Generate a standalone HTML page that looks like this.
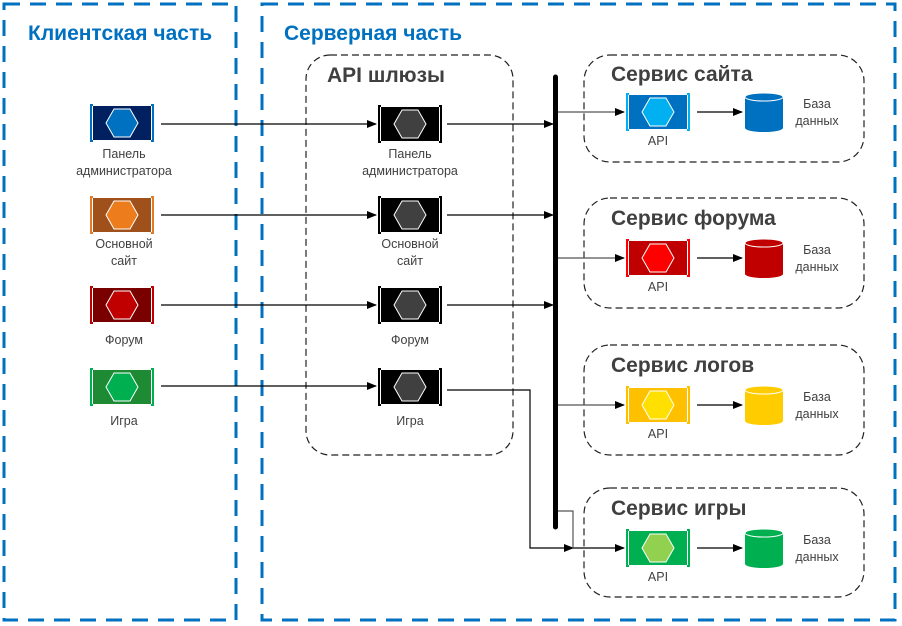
<!DOCTYPE html>
<html><head><meta charset="utf-8"><style>
html,body{margin:0;padding:0;background:#fff;}
svg{display:block;font-family:"Liberation Sans","DejaVu Sans",sans-serif;}
.l{font-size:12.5px;fill:#404040;text-anchor:middle;}
.t{font-size:21px;font-weight:bold;fill:#404040;}
.b{font-size:21px;font-weight:bold;fill:#0070c0;}
</style></head><body>
<svg width="902" height="626" viewBox="0 0 902 626">
<defs>
<marker id="a" markerWidth="10" markerHeight="8" refX="9" refY="4" orient="auto" markerUnits="userSpaceOnUse"><path d="M0,0 L10,4 L0,8 z" fill="#000"/></marker>
</defs>
<rect x="4" y="4" width="232" height="616" fill="none" stroke="#0070c0" stroke-width="3" stroke-dasharray="16,10"/>
<rect x="262" y="4" width="633" height="616" fill="none" stroke="#0070c0" stroke-width="3" stroke-dasharray="16,10"/>
<text class="b" x="28" y="40">Клиентская часть</text>
<text class="b" x="284" y="40">Серверная часть</text>
<rect x="306" y="55" width="207" height="400" rx="24" fill="none" stroke="#222" stroke-width="1.2" stroke-dasharray="7,4"/>
<text class="t" x="327" y="82">API шлюзы</text>
<rect x="584" y="55" width="280" height="107" rx="26" fill="none" stroke="#222" stroke-width="1.2" stroke-dasharray="7,4"/>
<rect x="584" y="198" width="280" height="110" rx="26" fill="none" stroke="#222" stroke-width="1.2" stroke-dasharray="7,4"/>
<rect x="584" y="345" width="280" height="110" rx="26" fill="none" stroke="#222" stroke-width="1.2" stroke-dasharray="7,4"/>
<rect x="584" y="488" width="280" height="109" rx="26" fill="none" stroke="#222" stroke-width="1.2" stroke-dasharray="7,4"/>
<text class="t" x="611" y="81">Сервис сайта</text>
<text class="t" x="611" y="225">Сервис форума</text>
<text class="t" x="611" y="372">Сервис логов</text>
<text class="t" x="611" y="515">Сервис игры</text>
<line x1="555.5" y1="77" x2="555.5" y2="527" stroke="#000" stroke-width="5" stroke-linecap="round"/>
<g stroke="#000" stroke-width="1.2" fill="none">
<line x1="161" y1="124" x2="376" y2="124" marker-end="url(#a)"/>
<line x1="161" y1="215" x2="376" y2="215" marker-end="url(#a)"/>
<line x1="161" y1="305" x2="376" y2="305" marker-end="url(#a)"/>
<line x1="161" y1="386" x2="376" y2="386" marker-end="url(#a)"/>
<line x1="447" y1="124" x2="553" y2="124" marker-end="url(#a)"/>
<line x1="447" y1="215" x2="553" y2="215" marker-end="url(#a)"/>
<line x1="447" y1="305" x2="553" y2="305" marker-end="url(#a)"/>
<polyline points="447,390 530,390 530,548 573,548" marker-end="url(#a)"/>
<line x1="573" y1="548" x2="624" y2="548" marker-end="url(#a)"/>
<polyline points="558,511 573,511 573,548" stroke="#555"/>
<line x1="558" y1="112" x2="624" y2="112" marker-end="url(#a)" stroke="#555"/>
<line x1="558" y1="258" x2="624" y2="258" marker-end="url(#a)" stroke="#555"/>
<line x1="558" y1="405" x2="624" y2="405" marker-end="url(#a)" stroke="#555"/>
<line x1="697" y1="112" x2="742" y2="112" marker-end="url(#a)"/>
<line x1="697" y1="258" x2="742" y2="258" marker-end="url(#a)"/>
<line x1="697" y1="405" x2="742" y2="405" marker-end="url(#a)"/>
<line x1="697" y1="548" x2="742" y2="548" marker-end="url(#a)"/>
</g>
<g transform="translate(90,105)"><path d="M3,0H1V36H3M61,0H63V36H61" fill="none" stroke="#0070c0" stroke-width="2"/><rect x="3" y="1" width="58" height="34" fill="#002060"/><polygon points="16,18 24,4 40,4 48,18 40,32 24,32" fill="#0070c0" stroke="#fff" stroke-width="1"/></g>
<g transform="translate(90,197)"><path d="M3,0H1V36H3M61,0H63V36H61" fill="none" stroke="#e07b2a" stroke-width="2"/><rect x="3" y="1" width="58" height="34" fill="#a0501a"/><polygon points="16,18 24,4 40,4 48,18 40,32 24,32" fill="#ed7d1c" stroke="#fff" stroke-width="1"/></g>
<g transform="translate(90,287)"><path d="M3,0H1V36H3M61,0H63V36H61" fill="none" stroke="#c00000" stroke-width="2"/><rect x="3" y="1" width="58" height="34" fill="#7a0000"/><polygon points="16,18 24,4 40,4 48,18 40,32 24,32" fill="#c00000" stroke="#fff" stroke-width="1"/></g>
<g transform="translate(90,369)"><path d="M3,0H1V36H3M61,0H63V36H61" fill="none" stroke="#00b050" stroke-width="2"/><rect x="3" y="1" width="58" height="34" fill="#1e8a34"/><polygon points="16,18 24,4 40,4 48,18 40,32 24,32" fill="#00b050" stroke="#fff" stroke-width="1"/></g>
<g transform="translate(378,106)"><path d="M3,0H1V36H3M61,0H63V36H61" fill="none" stroke="#000" stroke-width="2"/><rect x="3" y="1" width="58" height="34" fill="#000"/><polygon points="16,18 24,4 40,4 48,18 40,32 24,32" fill="#404040" stroke="#fff" stroke-width="1"/></g>
<g transform="translate(378,197)"><path d="M3,0H1V36H3M61,0H63V36H61" fill="none" stroke="#000" stroke-width="2"/><rect x="3" y="1" width="58" height="34" fill="#000"/><polygon points="16,18 24,4 40,4 48,18 40,32 24,32" fill="#404040" stroke="#fff" stroke-width="1"/></g>
<g transform="translate(378,287)"><path d="M3,0H1V36H3M61,0H63V36H61" fill="none" stroke="#000" stroke-width="2"/><rect x="3" y="1" width="58" height="34" fill="#000"/><polygon points="16,18 24,4 40,4 48,18 40,32 24,32" fill="#404040" stroke="#fff" stroke-width="1"/></g>
<g transform="translate(378,369)"><path d="M3,0H1V36H3M61,0H63V36H61" fill="none" stroke="#000" stroke-width="2"/><rect x="3" y="1" width="58" height="34" fill="#000"/><polygon points="16,18 24,4 40,4 48,18 40,32 24,32" fill="#404040" stroke="#fff" stroke-width="1"/></g>
<g transform="translate(626,94)"><path d="M3,0H1V36H3M61,0H63V36H61" fill="none" stroke="#00b0f0" stroke-width="2"/><rect x="3" y="1" width="58" height="34" fill="#0070c0"/><polygon points="16,18 24,4 40,4 48,18 40,32 24,32" fill="#00b0f0" stroke="#fff" stroke-width="1"/></g>
<g transform="translate(626,240)"><path d="M3,0H1V36H3M61,0H63V36H61" fill="none" stroke="#ff0000" stroke-width="2"/><rect x="3" y="1" width="58" height="34" fill="#c00000"/><polygon points="16,18 24,4 40,4 48,18 40,32 24,32" fill="#ff0000" stroke="#fff" stroke-width="1"/></g>
<g transform="translate(626,387)"><path d="M3,0H1V36H3M61,0H63V36H61" fill="none" stroke="#ffc000" stroke-width="2"/><rect x="3" y="1" width="58" height="34" fill="#ffc000"/><polygon points="16,18 24,4 40,4 48,18 40,32 24,32" fill="#ffe000" stroke="#fff" stroke-width="1"/></g>
<g transform="translate(626,530)"><path d="M3,0H1V36H3M61,0H63V36H61" fill="none" stroke="#00b050" stroke-width="2"/><rect x="3" y="1" width="58" height="34" fill="#00b050"/><polygon points="16,18 24,4 40,4 48,18 40,32 24,32" fill="#92d050" stroke="#fff" stroke-width="1"/></g>
<g><path d="M745,97 V128 A19,4 0 0 0 783,128 V97 Z" fill="#0070c0"/><ellipse cx="764" cy="97" rx="19" ry="4" fill="#0070c0" stroke="#fff" stroke-width="1"/></g>
<g><path d="M745,243 V274 A19,4 0 0 0 783,274 V243 Z" fill="#c00000"/><ellipse cx="764" cy="243" rx="19" ry="4" fill="#c00000" stroke="#fff" stroke-width="1"/></g>
<g><path d="M745,390 V421 A19,4 0 0 0 783,421 V390 Z" fill="#ffcc00"/><ellipse cx="764" cy="390" rx="19" ry="4" fill="#ffcc00" stroke="#fff" stroke-width="1"/></g>
<g><path d="M745,533 V564 A19,4 0 0 0 783,564 V533 Z" fill="#00b050"/><ellipse cx="764" cy="533" rx="19" ry="4" fill="#00b050" stroke="#fff" stroke-width="1"/></g>
<text class="l" x="124" y="158">Панель</text><text class="l" x="124" y="175">администратора</text>
<text class="l" x="124" y="248">Основной</text><text class="l" x="124" y="265">сайт</text>
<text class="l" x="124" y="344">Форум</text>
<text class="l" x="124" y="425">Игра</text>
<text class="l" x="410" y="158">Панель</text><text class="l" x="410" y="175">администратора</text>
<text class="l" x="410" y="248">Основной</text><text class="l" x="410" y="265">сайт</text>
<text class="l" x="410" y="344">Форум</text>
<text class="l" x="410" y="425">Игра</text>
<text class="l" x="658" y="145">API</text>
<text class="l" x="658" y="291">API</text>
<text class="l" x="658" y="438">API</text>
<text class="l" x="658" y="581">API</text>
<text class="l" x="817" y="108">База</text><text class="l" x="817" y="125">данных</text>
<text class="l" x="817" y="254">База</text><text class="l" x="817" y="271">данных</text>
<text class="l" x="817" y="401">База</text><text class="l" x="817" y="418">данных</text>
<text class="l" x="817" y="544">База</text><text class="l" x="817" y="561">данных</text>
</svg>
</body></html>
